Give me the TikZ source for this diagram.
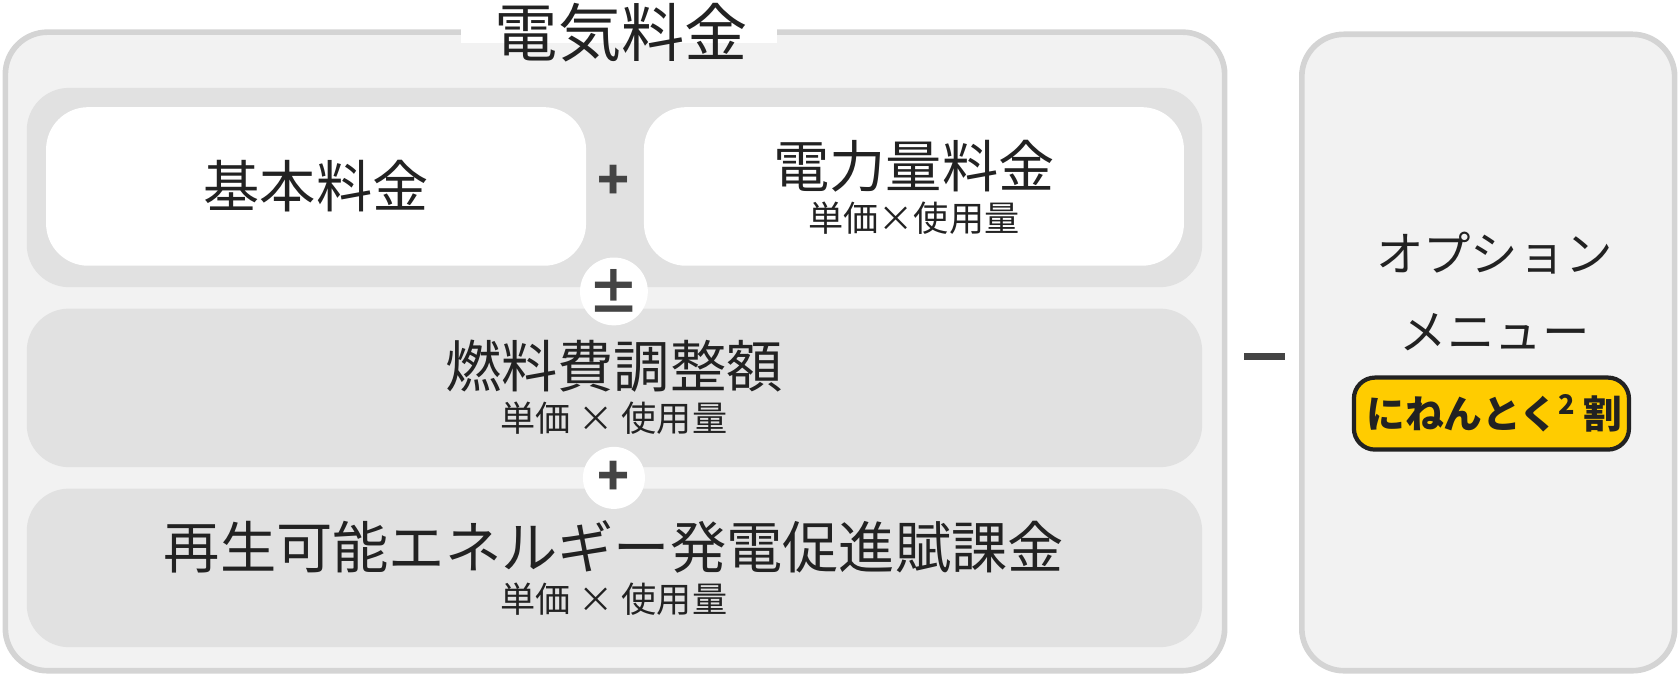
\documentclass[tikz,border=0pt]{standalone}
\usepackage{fontspec}
\setmainfont{Noto Sans CJK JP}
\usetikzlibrary{positioning}
\definecolor{bandgray}{HTML}{E1E1E1}
\definecolor{boxgray}{HTML}{F2F2F2}
\definecolor{linegray}{HTML}{D4D4D4}
\definecolor{inkgray}{HTML}{222222}
\definecolor{signgray}{HTML}{444444}
\definecolor{badgeyellow}{HTML}{FFCC00}
\tikzset{
    band/.style={fill=bandgray, rounded corners=12pt, inner sep=0pt},
    whitebox/.style={fill=white, rounded corners=12pt, inner sep=0pt},
    frame/.style={fill=boxgray, draw=linegray, line width=1.6pt, rounded corners=12pt},
    signdot/.style={circle, fill=white, minimum size=0.62cm, inner sep=0pt, font=\bfseries\fontsize{15}{15}\selectfont, text=signgray},
    big/.style={font=\fontsize{16}{18}\selectfont, text=inkgray},
    small/.style={font=\fontsize{10}{12}\selectfont, text=inkgray, inner sep=1pt}
}
\begin{document}
\begin{tikzpicture}[x=0.010714cm, y=-0.010714cm]
\useasboundingbox (0,0) rectangle (1568,631);

% outer frames
\draw[frame] (5,30) rectangle (1143,626);
\draw[frame] (1215,32) rectangle (1563,626);
\fill[white] (430,20) rectangle (725,40);
\node[inner sep=0pt, font=\fontsize{18}{20}\selectfont, text=inkgray] (title) at (580,30) {電気料金};

% bands
\fill[band] (25,82) rectangle (1122,268);
\fill[whitebox] (43,100) rectangle (547,248);
\fill[whitebox] (601,100) rectangle (1105,248);
\fill[band] (25,288) rectangle (1122,436);
\fill[band] (25,456) rectangle (1122,604);

% texts
\node[big] (basic) at (295,174) {基本料金};
\node[big] (energy) at (853,155) {電力量料金};
\node[small, below=-2pt of energy] (energyunit) {単価×使用量};
\node[big] (fuel) at (573,342) {燃料費調整額};
\node[small, below=-2pt of fuel] (fuelunit) {単価 × 使用量};
\node[big] (renew) at (573,510) {再生可能エネルギー発電促進賦課金};
\node[small, below=-2pt of renew] (renewunit) {単価 × 使用量};

% signs
\node[font=\bfseries\fontsize{15}{15}\selectfont, text=signgray] (plusa) at (573,170) {+};
\node[signdot] (pm) at (573,272) {±};
\node[signdot] (plusb) at (573,446) {+};
\fill[signgray] (1161,329) rectangle (1199,336);

% option menu
\node[font=\fontsize{13.5}{16}\selectfont, text=inkgray, align=center] (option) at (1395,272) {オプション\\[6pt]メニュー};
\node[fill=badgeyellow, draw=inkgray, line width=1.2pt, rounded corners=6pt, minimum width=2.75cm, minimum height=0.72cm,
      text width=2.5cm, align=center, font=\bfseries\fontsize{11}{13}\selectfont, text=inkgray] (badge) at (1392,386) {にねんとく\textsuperscript{2}\,割};
\end{tikzpicture}
\end{document}
